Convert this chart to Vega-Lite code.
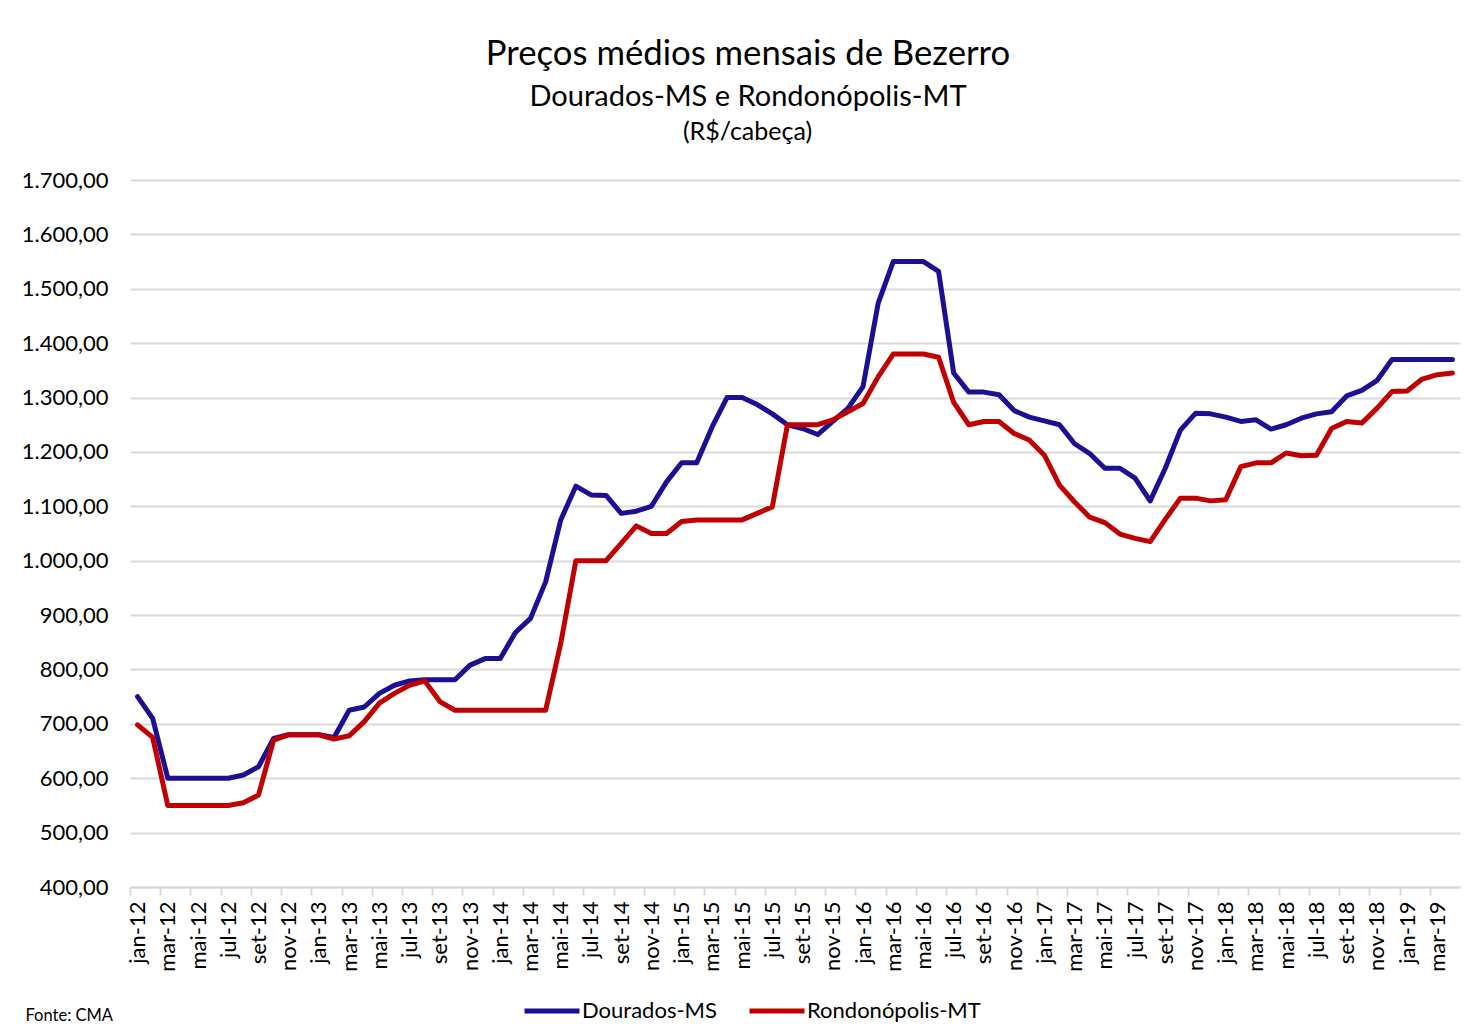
{
  "$schema": "https://vega.github.io/schema/vega-lite/v6.json",
  "width": 1330,
  "height": 707,
  "autosize": {"type": "none"},
  "padding": {"left": 130, "top": 180, "right": 17, "bottom": 137},
  "background": "white",
  "config": {
    "locale": {"number": {"decimal": ",", "thousands": ".", "grouping": [3], "currency": ["R$ ", ""]}},
    "font": "Lato",
    "view": {"stroke": null}
  },
  "title": {
    "text": "Preços médios mensais de Bezerro",
    "subtitle": "Dourados-MS e Rondonópolis-MT",
    "fontSize": 34.7,
    "fontWeight": "normal",
    "color": "black",
    "subtitleFontSize": 29,
    "subtitleColor": "black",
    "subtitlePadding": 10,
    "anchor": "middle",
    "dx": -47,
    "offset": 6
  },
  "data": {
    "values": [
      {"mes": "jan-12", "Dourados-MS": 750, "Rondonópolis-MT": 698},
      {"mes": "fev-12", "Dourados-MS": 710, "Rondonópolis-MT": 675},
      {"mes": "mar-12", "Dourados-MS": 600, "Rondonópolis-MT": 550},
      {"mes": "abr-12", "Dourados-MS": 600, "Rondonópolis-MT": 550},
      {"mes": "mai-12", "Dourados-MS": 600, "Rondonópolis-MT": 550},
      {"mes": "jun-12", "Dourados-MS": 600, "Rondonópolis-MT": 550},
      {"mes": "jul-12", "Dourados-MS": 600, "Rondonópolis-MT": 550},
      {"mes": "ago-12", "Dourados-MS": 606, "Rondonópolis-MT": 555},
      {"mes": "set-12", "Dourados-MS": 621, "Rondonópolis-MT": 569},
      {"mes": "out-12", "Dourados-MS": 673, "Rondonópolis-MT": 670},
      {"mes": "nov-12", "Dourados-MS": 680, "Rondonópolis-MT": 680},
      {"mes": "dez-12", "Dourados-MS": 680, "Rondonópolis-MT": 680},
      {"mes": "jan-13", "Dourados-MS": 680, "Rondonópolis-MT": 680},
      {"mes": "fev-13", "Dourados-MS": 675, "Rondonópolis-MT": 672},
      {"mes": "mar-13", "Dourados-MS": 725, "Rondonópolis-MT": 678},
      {"mes": "abr-13", "Dourados-MS": 731, "Rondonópolis-MT": 704},
      {"mes": "mai-13", "Dourados-MS": 756, "Rondonópolis-MT": 738},
      {"mes": "jun-13", "Dourados-MS": 771, "Rondonópolis-MT": 756},
      {"mes": "jul-13", "Dourados-MS": 779, "Rondonópolis-MT": 771},
      {"mes": "ago-13", "Dourados-MS": 781, "Rondonópolis-MT": 779},
      {"mes": "set-13", "Dourados-MS": 781, "Rondonópolis-MT": 741},
      {"mes": "out-13", "Dourados-MS": 781, "Rondonópolis-MT": 725},
      {"mes": "nov-13", "Dourados-MS": 808, "Rondonópolis-MT": 725},
      {"mes": "dez-13", "Dourados-MS": 820, "Rondonópolis-MT": 725},
      {"mes": "jan-14", "Dourados-MS": 820, "Rondonópolis-MT": 725},
      {"mes": "fev-14", "Dourados-MS": 868, "Rondonópolis-MT": 725},
      {"mes": "mar-14", "Dourados-MS": 894, "Rondonópolis-MT": 725},
      {"mes": "abr-14", "Dourados-MS": 961, "Rondonópolis-MT": 725},
      {"mes": "mai-14", "Dourados-MS": 1075, "Rondonópolis-MT": 848},
      {"mes": "jun-14", "Dourados-MS": 1137, "Rondonópolis-MT": 1000},
      {"mes": "jul-14", "Dourados-MS": 1121, "Rondonópolis-MT": 1000},
      {"mes": "ago-14", "Dourados-MS": 1120, "Rondonópolis-MT": 1000},
      {"mes": "set-14", "Dourados-MS": 1087, "Rondonópolis-MT": 1032},
      {"mes": "out-14", "Dourados-MS": 1091, "Rondonópolis-MT": 1064},
      {"mes": "nov-14", "Dourados-MS": 1100, "Rondonópolis-MT": 1050},
      {"mes": "dez-14", "Dourados-MS": 1145, "Rondonópolis-MT": 1050},
      {"mes": "jan-15", "Dourados-MS": 1180, "Rondonópolis-MT": 1072},
      {"mes": "fev-15", "Dourados-MS": 1180, "Rondonópolis-MT": 1075},
      {"mes": "mar-15", "Dourados-MS": 1245, "Rondonópolis-MT": 1075},
      {"mes": "abr-15", "Dourados-MS": 1300, "Rondonópolis-MT": 1075},
      {"mes": "mai-15", "Dourados-MS": 1300, "Rondonópolis-MT": 1075},
      {"mes": "jun-15", "Dourados-MS": 1287, "Rondonópolis-MT": 1087},
      {"mes": "jul-15", "Dourados-MS": 1270, "Rondonópolis-MT": 1099},
      {"mes": "ago-15", "Dourados-MS": 1250, "Rondonópolis-MT": 1250},
      {"mes": "set-15", "Dourados-MS": 1243, "Rondonópolis-MT": 1250},
      {"mes": "out-15", "Dourados-MS": 1232, "Rondonópolis-MT": 1250},
      {"mes": "nov-15", "Dourados-MS": 1256, "Rondonópolis-MT": 1259},
      {"mes": "dez-15", "Dourados-MS": 1280, "Rondonópolis-MT": 1274},
      {"mes": "jan-16", "Dourados-MS": 1320, "Rondonópolis-MT": 1289},
      {"mes": "fev-16", "Dourados-MS": 1473, "Rondonópolis-MT": 1338},
      {"mes": "mar-16", "Dourados-MS": 1550, "Rondonópolis-MT": 1380},
      {"mes": "abr-16", "Dourados-MS": 1550, "Rondonópolis-MT": 1380},
      {"mes": "mai-16", "Dourados-MS": 1550, "Rondonópolis-MT": 1380},
      {"mes": "jun-16", "Dourados-MS": 1532, "Rondonópolis-MT": 1374},
      {"mes": "jul-16", "Dourados-MS": 1345, "Rondonópolis-MT": 1291},
      {"mes": "ago-16", "Dourados-MS": 1310, "Rondonópolis-MT": 1250},
      {"mes": "set-16", "Dourados-MS": 1310, "Rondonópolis-MT": 1256},
      {"mes": "out-16", "Dourados-MS": 1305, "Rondonópolis-MT": 1256},
      {"mes": "nov-16", "Dourados-MS": 1276, "Rondonópolis-MT": 1234},
      {"mes": "dez-16", "Dourados-MS": 1264, "Rondonópolis-MT": 1222},
      {"mes": "jan-17", "Dourados-MS": 1257, "Rondonópolis-MT": 1194},
      {"mes": "fev-17", "Dourados-MS": 1250, "Rondonópolis-MT": 1139},
      {"mes": "mar-17", "Dourados-MS": 1215, "Rondonópolis-MT": 1108},
      {"mes": "abr-17", "Dourados-MS": 1197, "Rondonópolis-MT": 1080},
      {"mes": "mai-17", "Dourados-MS": 1170, "Rondonópolis-MT": 1070},
      {"mes": "jun-17", "Dourados-MS": 1170, "Rondonópolis-MT": 1049},
      {"mes": "jul-17", "Dourados-MS": 1152, "Rondonópolis-MT": 1041},
      {"mes": "ago-17", "Dourados-MS": 1110, "Rondonópolis-MT": 1035},
      {"mes": "set-17", "Dourados-MS": 1170, "Rondonópolis-MT": 1076},
      {"mes": "out-17", "Dourados-MS": 1240, "Rondonópolis-MT": 1115},
      {"mes": "nov-17", "Dourados-MS": 1271, "Rondonópolis-MT": 1115},
      {"mes": "dez-17", "Dourados-MS": 1270, "Rondonópolis-MT": 1110},
      {"mes": "jan-18", "Dourados-MS": 1264, "Rondonópolis-MT": 1112},
      {"mes": "fev-18", "Dourados-MS": 1256, "Rondonópolis-MT": 1173},
      {"mes": "mar-18", "Dourados-MS": 1259, "Rondonópolis-MT": 1180},
      {"mes": "abr-18", "Dourados-MS": 1242, "Rondonópolis-MT": 1180},
      {"mes": "mai-18", "Dourados-MS": 1250, "Rondonópolis-MT": 1198},
      {"mes": "jun-18", "Dourados-MS": 1262, "Rondonópolis-MT": 1193},
      {"mes": "jul-18", "Dourados-MS": 1270, "Rondonópolis-MT": 1194},
      {"mes": "ago-18", "Dourados-MS": 1274, "Rondonópolis-MT": 1243},
      {"mes": "set-18", "Dourados-MS": 1303, "Rondonópolis-MT": 1256},
      {"mes": "out-18", "Dourados-MS": 1313, "Rondonópolis-MT": 1253},
      {"mes": "nov-18", "Dourados-MS": 1331, "Rondonópolis-MT": 1280},
      {"mes": "dez-18", "Dourados-MS": 1370, "Rondonópolis-MT": 1311},
      {"mes": "jan-19", "Dourados-MS": 1370, "Rondonópolis-MT": 1312},
      {"mes": "fev-19", "Dourados-MS": 1370, "Rondonópolis-MT": 1334},
      {"mes": "mar-19", "Dourados-MS": 1370, "Rondonópolis-MT": 1342},
      {"mes": "abr-19", "Dourados-MS": 1370, "Rondonópolis-MT": 1345}
    ]
  },
  "transform": [{"fold": ["Dourados-MS", "Rondonópolis-MT"], "as": ["serie", "valor"]}],
  "mark": {"type": "line", "strokeWidth": 5, "strokeJoin": "round", "strokeCap": "round"},
  "encoding": {
    "x": {
      "field": "mes",
      "type": "ordinal",
      "sort": null,
      "scale": {"type": "point", "padding": 0.5},
      "axis": {
        "values": ["jan-12","mar-12","mai-12","jul-12","set-12","nov-12","jan-13","mar-13","mai-13","jul-13","set-13","nov-13","jan-14","mar-14","mai-14","jul-14","set-14","nov-14","jan-15","mar-15","mai-15","jul-15","set-15","nov-15","jan-16","mar-16","mai-16","jul-16","set-16","nov-16","jan-17","mar-17","mai-17","jul-17","set-17","nov-17","jan-18","mar-18","mai-18","jul-18","set-18","nov-18","jan-19","mar-19"],
        "labelAngle": 270,
        "labelAlign": "right",
        "labelBaseline": "middle",
        "labelFontSize": 22,
        "labelColor": "black",
        "labelPadding": 6,
        "tickOffset": -7.56,
        "labelOffset": 7.56,
        "tickColor": "#d9d9d9",
        "tickWidth": 2,
        "tickSize": 8,
        "domainColor": "#d9d9d9",
        "domainWidth": 2,
        "grid": false,
        "title": "Fonte: CMA",
        "titleFontSize": 16.5,
        "titleFontWeight": "normal",
        "titleColor": "black",
        "titleAnchor": "start",
        "titleAlign": "left",
        "titleBaseline": "alphabetic",
        "titleX": -105,
        "titleY": 133
      }
    },
    "y": {
      "field": "valor",
      "type": "quantitative",
      "scale": {"domain": [400, 1700], "nice": false, "zero": false},
      "axis": {
        "values": [400, 500, 600, 700, 800, 900, 1000, 1100, 1200, 1300, 1400, 1500, 1600, 1700],
        "format": ",.2f",
        "labelFontSize": 22,
        "labelColor": "black",
        "labelPadding": 22,
        "domain": false,
        "ticks": false,
        "grid": true,
        "gridColor": "#d9d9d9",
        "gridWidth": 2,
        "title": "(R$/cabeça)",
        "titleAngle": 0,
        "titleFontSize": 25,
        "titleFontWeight": "normal",
        "titleColor": "black",
        "titleAlign": "center",
        "titleBaseline": "alphabetic",
        "titleAnchor": null,
        "titleX": 617,
        "titleY": -41
      }
    },
    "color": {
      "field": "serie",
      "type": "nominal",
      "scale": {"domain": ["Dourados-MS", "Rondonópolis-MT"], "range": ["#1c0f94", "#c00000"]},
      "legend": {
        "orient": "none",
        "legendX": 392,
        "legendY": 801,
        "direction": "horizontal",
        "title": null,
        "symbolType": "stroke",
        "symbolSize": 3025,
        "symbolStrokeWidth": 5,
        "labelFontSize": 22,
        "labelLimit": 400,
        "labelColor": "black",
        "labelOffset": 0,
        "columnPadding": 22
      }
    }
  }
}
